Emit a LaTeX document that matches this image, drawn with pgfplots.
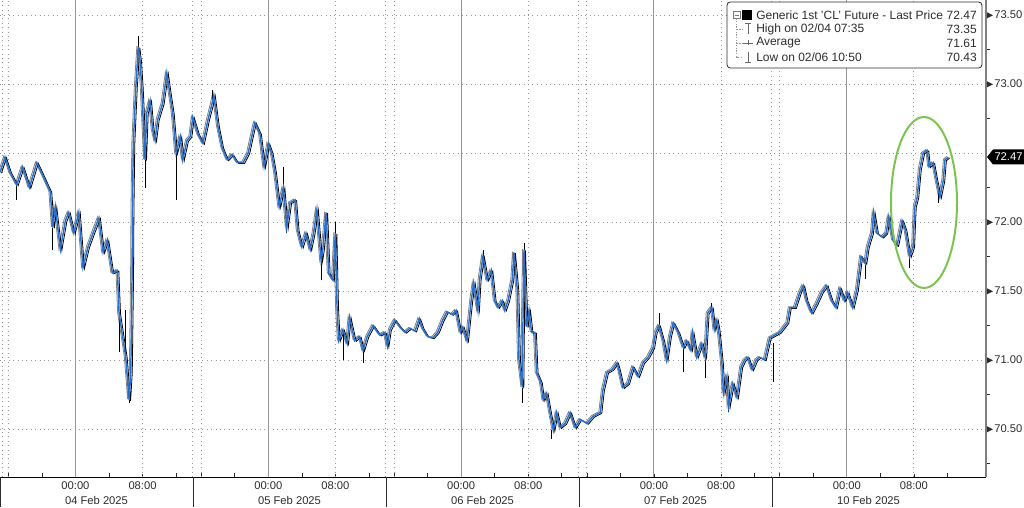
\documentclass[border=0pt]{standalone}
\usepackage{fontspec}
\setmainfont{Liberation Sans}
\usepackage{pgfplots}
\pgfplotsset{compat=1.18}
\usepackage{pgfplotstable}
\definecolor{clblue}{RGB}{40,112,205}
\definecolor{txt}{RGB}{45,45,45}
\definecolor{gridc}{RGB}{150,150,150}
\definecolor{circ}{RGB}{125,195,80}
\newcommand{\fs}{\fontsize{8.4}{10}\selectfont}
\newcommand{\fl}{\fontsize{9}{10}\selectfont}

\pgfplotstableread{
h v
0 72.36
0.6 72.47
1.2 72.36
2.0 72.27
2.7 72.40
3.5 72.25
4.4 72.43
5.1 72.34
6.0 72.22
6.3 71.96
6.6 72.11
7.2 71.80
7.8 72.01
8.2 72.07
8.8 71.92
9.4 72.07
9.9 71.67
10.5 71.82
11.1 71.92
11.8 72.03
12.3 71.78
12.8 71.87
13.4 71.63
14.0 71.65
14.2 71.34
14.7 71.14
15.0 71.02
15.4 70.71
15.6 70.91
15.75 71.60
15.8 72.09
15.9 72.57
16.2 72.98
16.5 73.27
16.7 73.17
16.9 72.98
17.3 72.45
17.5 72.79
17.9 72.88
18.2 72.67
18.5 72.59
18.8 72.74
19.4 72.86
19.9 73.08
20.3 72.91
20.6 72.79
21.0 72.50
21.5 72.62
21.8 72.45
22.3 72.59
22.7 72.62
23.0 72.76
23.6 72.64
24.2 72.57
24.8 72.74
25.3 72.86
25.5 72.92
26.0 72.69
26.5 72.54
27.1 72.45
27.7 72.49
28.3 72.43
29.0 72.43
29.6 72.50
30.1 72.64
30.4 72.72
31.0 72.64
31.5 72.40
32.0 72.57
32.4 72.50
32.8 72.36
33.3 72.11
33.8 72.25
34.2 71.96
34.6 72.14
35.2 72.16
35.5 71.94
36.0 71.82
36.5 71.92
37.0 71.80
37.4 71.92
37.8 72.09
38.3 71.72
38.5 71.80
38.9 72.07
39.2 71.63
39.7 71.58
40.0 71.92
40.2 71.38
40.4 71.14
40.9 71.22
41.4 71.12
41.7 71.31
42.3 71.14
42.9 71.17
43.3 71.07
43.8 71.17
44.5 71.25
45.3 71.18
45.9 71.20
46.2 71.10
46.5 71.22
47.1 71.29
47.7 71.24
48.3 71.20
48.9 71.23
49.5 71.21
50.0 71.30
50.4 71.23
51.0 71.17
51.6 71.16
52.2 71.20
52.8 71.29
53.3 71.35
53.9 71.33
54.4 71.36
54.9 71.20
55.2 71.24
55.7 71.14
56.2 71.43
56.5 71.56
57.0 71.36
57.2 71.58
57.6 71.75
58.1 71.58
58.6 71.65
59.0 71.43
59.4 71.38
59.9 71.43
60.2 71.36
60.6 71.43
61.1 71.58
61.3 71.78
61.7 71.51
61.9 71.00
62.3 70.80
62.4 71.43
62.5 71.80
62.8 71.24
63.1 71.36
63.4 71.20
63.8 71.20
64.0 70.91
64.5 70.84
64.8 70.71
65.2 70.76
65.6 70.62
66.0 70.49
66.4 70.62
66.8 70.51
67.4 70.54
68.0 70.62
68.6 70.51
69.2 70.57
70.0 70.54
70.7 70.59
71.6 70.62
71.9 70.78
72.4 70.91
73.0 70.93
73.6 70.98
73.9 70.91
74.3 70.80
74.9 70.83
75.5 70.95
76.1 70.88
76.7 70.98
77.3 71.02
77.9 71.09
78.2 71.20
78.6 71.25
79.1 71.14
79.5 71.00
79.9 71.17
80.3 71.27
80.9 71.20
81.5 71.09
81.9 71.14
82.4 71.07
82.6 71.20
83.1 71.02
83.7 71.12
84.1 71.02
84.4 71.34
84.9 71.38
85.2 71.22
85.5 71.29
85.7 71.22
86.1 70.98
86.3 70.76
86.7 70.88
86.9 70.66
87.4 70.83
87.9 70.73
88.4 70.95
88.8 71.00
89.2 71.02
89.7 70.93
90.2 71.00
90.6 71.02
91.2 71.00
91.8 71.16
93.0 71.20
93.9 71.27
94.2 71.38
94.8 71.38
95.4 71.49
95.8 71.54
96.2 71.43
96.8 71.34
97.4 71.41
98.0 71.49
98.6 71.54
99.2 71.43
99.7 71.38
100.2 71.52
100.7 71.43
101.1 71.49
101.7 71.38
102.2 71.51
102.7 71.75
103.2 71.70
103.5 71.82
104.0 71.92
104.2 72.07
104.6 71.92
105.2 71.89
105.7 71.92
106.0 72.04
106.5 71.87
107.0 71.83
107.6 72.01
108.0 71.94
108.5 71.75
108.9 71.82
109.1 72.11
109.4 72.18
109.7 72.38
110.1 72.50
110.6 72.52
110.8 72.40
111.3 72.43
111.6 72.33
112.1 72.18
112.5 72.30
112.7 72.45
113.1 72.47
}\cl

\pgfplotstableread{
h v up dn
2.0 72.27 0 0.11
6.3 71.96 0 0.16
14.2 71.34 0 0.28
15.0 71.02 0.34 0
15.4 70.71 0 0.02
16.5 73.27 0.08 0
17.3 72.45 0 0.20
21.0 72.50 0 0.34
25.3 72.86 0.10 0
33.8 72.25 0.15 0
34.2 71.96 0 0.04
38.3 71.72 0 0.14
40.0 71.92 0.08 0
40.9 71.22 0 0.22
43.3 71.07 0 0.09
57.6 71.75 0.05 0
62.3 70.80 0 0.11
62.5 71.80 0.05 0
65.8 70.49 0 0.06
78.6 71.25 0.09 0
81.5 71.09 0 0.18
84.1 71.02 0 0.15
84.9 71.38 0.03 0
86.9 70.66 0 0.04
92.2 71.12 0 0.28
103.2 71.70 0 0.11
108.5 71.75 0 0.08
111.9 72.25 0 0.11
}\wick

\begin{document}
\begin{tikzpicture}
\path[use as bounding box] (0,0) rectangle (768pt,380.25pt);
\begin{axis}[
  at={(0pt,22.5pt)}, anchor=south west, scale only axis,
  width=739.5pt, height=357.75pt,
  xmin=0, xmax=117.6, ymin=70.152, ymax=73.609,
  axis x line*=bottom, axis y line*=right,
  x axis line style={-, black, line width=0.75pt},
  y axis line style={-, gridc!85!black, line width=1.1pt},
  xtick={9,17,32,40,55,63,78,86,101,109},
  xticklabels={00:00,08:00,00:00,08:00,00:00,08:00,00:00,08:00,00:00,08:00},
  minor xtick={1,5,13,21,24,28,36,44,47,51,59,67,70,74,82,90,93,97,105,113},
  ytick={70.5,71,71.5,72,73,73.5},
  minor ytick={70.25,70.75,71.25,71.75,72.25,72.75,73.25},
  tick align=inside, major tick length=2.25pt, minor tick length=3pt,
  tick style={txt, line width=0.5pt},
  every major y tick/.append style={draw=none},
  every minor y tick/.append style={xshift=3pt},
  /pgf/number format/assume math mode=true,
  yticklabel={\tikz[baseline=-0.6ex]\fill[txt] (0,-2.3pt)--(4.5pt,0)--(0,2.3pt)--cycle;\hspace{1pt}\pgfmathprintnumber[fixed,fixed zerofill,precision=2]{\tick}},
  yticklabel style={anchor=west, inner sep=0pt, xshift=0.5pt, font=\fs, text=txt},
  xticklabel style={font=\fs, text=txt},
]
\pgfplotsinvokeforeach{70.5,71,71.5,72,72.5,73,73.5}{
  \draw[gridc, line width=0.7pt, dash pattern=on 0.7pt off 2.6pt] (axis cs:0,#1) -- (axis cs:117.6,#1);
}
\pgfplotsinvokeforeach{0.3,1,17,23,24,40,46,47,63,69,70,86,92,93,109}{
  \draw[gridc, line width=0.7pt, dash pattern=on 0.7pt off 2.6pt] (axis cs:#1,70.152) -- (axis cs:#1,73.609);
}
\pgfplotsinvokeforeach{9,32,55,78,101}{
  \draw[gridc, line width=0.75pt] (axis cs:#1,70.152) -- (axis cs:#1,73.609);
}
\addplot[gray, line width=0.6pt, xshift=-1.1pt, yshift=0.6pt] table[x=h,y=v] {\cl};
\addplot[black, line width=0.6pt, xshift=1.1pt, yshift=-0.6pt] table[x=h,y=v] {\cl};
\addplot[black, mark=none, draw=none, forget plot,
  error bars/.cd, y dir=both, y explicit,
  error bar style={draw=black, line width=0.6pt}, error mark=none]
  table[x=h, y=v, y error plus=up, y error minus=dn] {\wick};
\addplot[clblue, line width=1.1pt] table[x=h,y=v] {\cl};
\end{axis}

\begin{scope}[x=0.75pt, y=-0.75pt, yshift=380.25pt]
  \foreach \sx in {0.5,193,386,579,772}{
    \draw[txt, line width=0.75pt] (\sx,477) -- (\sx,507);
  }
  \foreach \sx/\dt in {96.5/04 Feb 2025, 289.5/05 Feb 2025, 482.5/06 Feb 2025, 675.5/07 Feb 2025, 868.5/10 Feb 2025}{
    \node[font=\fs, text=txt, inner sep=0pt] at (\sx,500) {\dt};
  }
  \draw[circ, line width=1.5pt] (924,202.5) ellipse [x radius=24.75pt, y radius=64.1pt];
  \fill[black] (987,157) -- (993,149.5) -- (1024,149.5) -- (1024,164.5) -- (993,164.5) -- cycle;
  \node[font=\fs, text=white, inner sep=0pt] at (1008.5,157) {72.47};
  \draw[rounded corners=2.5pt, fill=white, draw=txt, line width=0.6pt] (727,2) rectangle (982,68);
  \draw[gridc!80!black, line width=0.5pt] (733,11.5) rectangle (740,18.5);
  \draw[gridc!80!black, line width=0.5pt] (734.5,15) -- (738.5,15);
  \fill[black] (742,10) rectangle (752,20);
  \draw[gridc, line width=0.5pt, dash pattern=on 1pt off 1pt] (736.5,18.5) -- (736.5,57) -- (742,57);
  \draw[gridc, line width=0.5pt, dash pattern=on 1pt off 1pt] (736.5,29) -- (742,29);
  \draw[gridc, line width=0.5pt, dash pattern=on 1pt off 1pt] (736.5,43) -- (742,43);
  \draw[gridc!70!black, line width=0.6pt] (745,23.5) -- (751,23.5) (748,23.5) -- (748,34);
  \draw[gridc!70!black, line width=0.6pt] (743,43) -- (753,43) (748,40.5) -- (748,45.5);
  \draw[gridc!70!black, line width=0.6pt] (748,52) -- (748,62.5) (745,62.5) -- (751,62.5);
  \foreach \ry/\lt/\vt in {15/{Generic 1st 'CL' Future - Last Price}/72.47, 29/{High on 02/04 07:35}/73.35, 43/Average/71.61, 57/{Low on 02/06 10:50}/70.43}{
    \node[font=\fl, text=txt, anchor=west, inner sep=0pt] at (756,\ry) {\lt};
    \node[font=\fl, text=txt, anchor=east, inner sep=0pt] at (977,\ry) {\vt};
  }
\end{scope}
\end{tikzpicture}
\end{document}
